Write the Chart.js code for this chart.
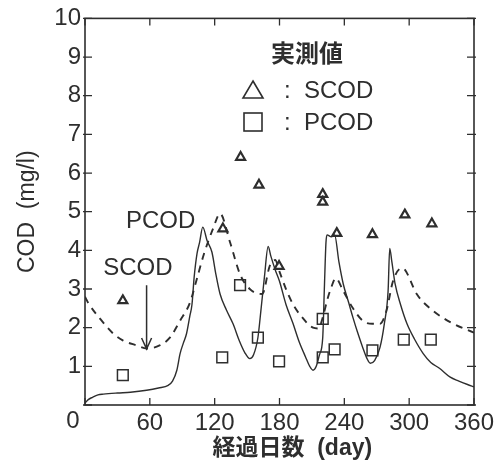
<!DOCTYPE html>
<html>
<head>
<meta charset="utf-8">
<script src="https://cdn.jsdelivr.net/npm/chart.js@4.4.1/dist/chart.umd.min.js"></script>
<style>
body { margin: 0; background: #fff; }
#wrap { width: 503px; height: 465px; }
</style>
</head>
<body>
<div id="wrap"><canvas id="codChart" width="503" height="465"></canvas></div>
<script>
// simulated PCOD (solid line)
const pcodSimDay = [0, 3, 7, 12, 17, 30, 42, 57, 68, 77, 81, 85, 88, 91, 94, 97, 99, 101, 103.7, 106, 109, 113, 117.5, 121, 125, 131, 137, 143, 148, 152.5, 156, 160, 163, 166, 169.5, 172, 176, 180, 186, 192.6, 198, 204, 208, 211, 214, 217, 220, 221.5, 223, 224, 228, 231, 235, 239, 244, 248, 252, 257, 261, 264, 268, 273, 277, 280.5, 282, 284, 287, 292, 298, 305, 313, 320, 328, 338, 346, 354, 360];
const pcodSimVal = [0.05, 0.14, 0.2, 0.26, 0.28, 0.31, 0.33, 0.38, 0.44, 0.51, 0.62, 0.9, 1.33, 1.6, 1.85, 2.3, 2.6, 3.3, 3.92, 4.2, 4.6, 4.25, 3.95, 3.4, 2.87, 2.45, 2.1, 1.65, 1.35, 1.2, 1.3, 1.74, 2.5, 3.3, 4.1, 3.85, 3.5, 3.2, 2.6, 2.1, 1.65, 1.25, 1.0, 0.9, 1.0, 1.3, 1.74, 3.0, 4.2, 4.4, 4.35, 4.4, 3.7, 3.13, 2.65, 2.26, 1.9, 1.49, 1.2, 1.08, 1.15, 1.49, 2.1, 2.95, 4.05, 3.7, 3.13, 2.6, 2.1, 1.7, 1.33, 1.1, 0.95, 0.72, 0.62, 0.53, 0.47];

// simulated SCOD (dashed line)
const scodSimDay = [0, 3, 14, 26, 35, 48, 57, 69, 78.5, 88, 97, 103.7, 110, 118.5, 125, 134, 143.5, 152.5, 164, 171, 176, 180, 186, 192.6, 200, 211, 216, 220, 224, 228, 232, 239, 248, 257, 266, 273, 279, 285, 293, 296, 307, 322, 341, 360];
const scodSimVal = [2.8, 2.64, 2.23, 1.85, 1.67, 1.54, 1.46, 1.54, 1.74, 2.18, 2.64, 3.28, 3.9, 4.56, 4.95, 4.23, 3.38, 3.0, 2.87, 3.6, 3.75, 3.45, 3.0, 2.6, 2.3, 2.0, 1.98, 2.26, 2.7, 3.05, 3.28, 2.95, 2.5, 2.18, 2.1, 2.1, 2.44, 3.2, 3.54, 3.5, 2.87, 2.44, 2.1, 1.87];

// measured values (実測値)
const scodObsDay = [35, 127.6, 144, 161, 179.6, 220, 220, 233, 266, 296, 321];
const scodObsVal = [2.7, 4.56, 6.41, 5.69, 3.59, 5.45, 5.25, 4.44, 4.41, 4.92, 4.69];
const pcodObsDay = [35, 127, 143.5, 160, 179.6, 220, 220, 231, 266, 295, 320];
const pcodObsVal = [0.77, 1.23, 3.1, 1.74, 1.13, 2.23, 1.23, 1.44, 1.41, 1.69, 1.69];

const xTicks = [0, 60, 120, 180, 240, 300, 360];
const yTicks = [0, 1, 2, 3, 4, 5, 6, 7, 8, 9, 10];

const ink = '#2e2e2e';
const LATIN = '"Liberation Sans", Arial, "Noto Sans CJK JP", sans-serif';
const CJK = '"Noto Sans CJK JP", "Liberation Sans", sans-serif';

const pts = (xs, ys) => xs.map((x, i) => ({ x: x, y: ys[i] }));

// frame, inward ticks, annotations and the measured-value key
const decor = {
  id: 'decor',
  afterDraw(chart) {
    const ctx = chart.ctx;
    const a = chart.chartArea;
    const xs = chart.scales.x, ys = chart.scales.y;
    ctx.save();
    ctx.strokeStyle = ink;
    ctx.fillStyle = ink;
    ctx.lineWidth = 1.6;
    ctx.strokeRect(a.left, a.top, a.right - a.left, a.bottom - a.top);

    ctx.lineWidth = 1.3;
    ctx.beginPath();
    xTicks.forEach(v => {
      const px = xs.getPixelForValue(v);
      ctx.moveTo(px, a.bottom); ctx.lineTo(px, a.bottom - 7);
      ctx.moveTo(px, a.top); ctx.lineTo(px, a.top + 7);
    });
    yTicks.forEach(v => {
      const py = ys.getPixelForValue(v);
      ctx.moveTo(a.left - 2, py); ctx.lineTo(a.left + 7, py);
      ctx.moveTo(a.right + 2, py); ctx.lineTo(a.right - 7, py);
    });
    ctx.stroke();

    // shared origin label
    ctx.font = '24px ' + LATIN;
    ctx.textAlign = 'center';
    ctx.textBaseline = 'middle';
    ctx.fillText('0', a.left - 12, a.bottom + 16);

    // curve labels
    ctx.fillText('PCOD', xs.getPixelForValue(70), ys.getPixelForValue(4.75));
    ctx.fillText('SCOD', xs.getPixelForValue(49), ys.getPixelForValue(3.53));

    // arrow to the SCOD curve
    const ax = xs.getPixelForValue(57);
    const ay1 = ys.getPixelForValue(3.1), ay2 = ys.getPixelForValue(1.45);
    ctx.lineWidth = 1.5;
    ctx.beginPath();
    ctx.moveTo(ax, ay1); ctx.lineTo(ax, ay2);
    ctx.moveTo(ax - 5, ay2 - 11); ctx.lineTo(ax, ay2); ctx.lineTo(ax + 5, ay2 - 11);
    ctx.stroke();

    // key
    ctx.font = 'bold 24px ' + CJK;
    ctx.fillText('実測値', 307, 53);
    ctx.lineWidth = 1.6;
    ctx.beginPath();
    ctx.moveTo(253, 81); ctx.lineTo(263, 98); ctx.lineTo(243, 98); ctx.closePath();
    ctx.stroke();
    ctx.strokeRect(244, 113, 18, 18);
    ctx.font = '24px ' + LATIN;
    ctx.textAlign = 'left';
    ctx.fillText(':  SCOD', 284, 91);
    ctx.fillText(':  PCOD', 284, 123);
    ctx.restore();
  }
};

new Chart(document.getElementById('codChart').getContext('2d'), {
  type: 'scatter',
  data: {
    datasets: [{
      label: 'PCOD (計算値)',
      data: pts(pcodSimDay, pcodSimVal),
      showLine: true,
      borderColor: ink,
      borderWidth: 1.4,
      pointRadius: 0,
      cubicInterpolationMode: 'monotone'
    }, {
      label: 'SCOD (計算値)',
      data: pts(scodSimDay, scodSimVal),
      showLine: true,
      borderColor: ink,
      borderWidth: 1.9,
      borderDash: [7, 6],
      pointRadius: 0,
      cubicInterpolationMode: 'monotone'
    }, {
      label: 'SCOD',
      data: pts(scodObsDay, scodObsVal),
      pointStyle: 'triangle',
      pointRadius: 5.2,
      borderWidth: 2.2,
      borderColor: ink,
      backgroundColor: 'rgba(255,255,255,0)'
    }, {
      label: 'PCOD',
      data: pts(pcodObsDay, pcodObsVal),
      pointStyle: 'rect',
      pointRadius: 7.6,
      borderWidth: 1.5,
      borderColor: ink,
      backgroundColor: 'rgba(255,255,255,0)'
    }]
  },
  options: {
    responsive: false,
    animation: false,
    layout: { padding: { top: 15, right: 29, left: 0, bottom: 0 } },
    plugins: {
      legend: { display: false },
      tooltip: { enabled: false }
    },
    scales: {
      x: {
        type: 'linear',
        min: 0,
        max: 360,
        afterFit: s => { s.height = 60; },
        grid: { display: false, drawTicks: false },
        border: { display: false },
        ticks: {
          stepSize: 60,
          padding: 4,
          color: ink,
          font: { family: LATIN, size: 24 },
          callback: v => v === 0 ? '' : v
        },
        title: {
          display: true,
          text: '    経過日数  (day)',
          color: ink,
          font: { family: LATIN, size: 23, weight: 'bold' },
          padding: { top: 0, bottom: 3 }
        }
      },
      y: {
        min: 0,
        max: 10,
        afterFit: s => { s.width = 85; },
        grid: { display: false, drawTicks: false },
        border: { display: false },
        ticks: {
          stepSize: 1,
          padding: 4,
          color: ink,
          font: { family: LATIN, size: 24 },
          callback: v => v === 0 ? '' : v
        },
        title: {
          display: true,
          text: 'COD  (mg/l)',
          color: ink,
          font: { family: LATIN, size: 23 },
          padding: { top: 14, bottom: 0 }
        }
      }
    }
  },
  plugins: [decor]
});
</script>
</body>
</html>
